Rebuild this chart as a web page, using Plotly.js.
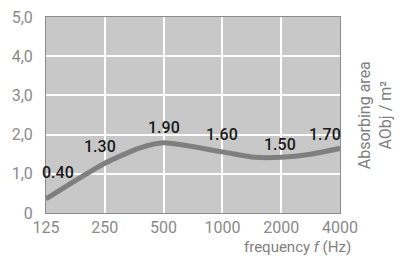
<!DOCTYPE html>
<html><head><meta charset="utf-8">
<script src="https://cdn.plot.ly/plotly-3.0.1.min.js"></script>
<style>html,body{margin:0;padding:0;background:#fff}#c{width:408px;height:256px}</style>
</head><body><div id="c"></div>
<script>
// Octave-band categories
const freqLabels = ["125", "250", "500", "1000", "2000", "4000"];
// Printed values per octave band
const bandValues = [0.40, 1.30, 1.90, 1.60, 1.50, 1.70];
// Curve as drawn (position in octaves from 125 Hz, absorbing area m²)
const curveOct = [0, 1, 1.6, 2, 3, 3.55, 4, 4.5, 5];
const curveVal = [0.36, 1.27, 1.66, 1.79, 1.56, 1.42, 1.42, 1.5, 1.65];
const yTickVals = [0, 1, 2, 3, 4, 5];
const yTickText = ["0", "1,0", "2,0", "3,0", "4,0", "5,0"];

// label placement (layout only)
const labelX = [0.2, 0.92, 2.0, 3.0, 3.98, 4.75];
const labelY = [1.03, 1.69, 2.17, 1.99, 1.76, 1.99];

const font = "Roboto, Liberation Sans, sans-serif";

const trace = {
  x: curveOct, y: curveVal, type: "scatter", mode: "lines",
  line: {color: "#7f7f7f", width: 5, shape: "spline", smoothing: 0.6},
  hoverinfo: "skip"
};

const annotations = bandValues.map((v, i) => ({
  x: labelX[i], y: labelY[i], xref: "x", yref: "y",
  text: v.toFixed(2), showarrow: false,
  font: {family: font, size: 16, weight: 500, color: "#1a1a1a"}
}));
annotations.push({
  xref: "paper", yref: "paper", x: 1.045, y: 0.5, xanchor: "left", yanchor: "middle",
  text: "Absorbing area<br>AObj / m²", textangle: -90, showarrow: false,
  font: {family: font, size: 16, color: "#808080"}
});
annotations.push({
  xref: "paper", yref: "paper", x: 1.04, y: -0.224, xanchor: "right", yanchor: "bottom",
  borderpad: 0,
  text: "frequency <i>f</i> (Hz)", showarrow: false,
  font: {family: font, size: 15, color: "#808080"}
});

const layout = {
  width: 408, height: 256,
  margin: {l: 46, r: 68, t: 17, b: 43, pad: 0},
  paper_bgcolor: "#ffffff", plot_bgcolor: "#c8c8c8",
  showlegend: false,
  xaxis: {
    range: [0, 5], tickvals: [0, 1, 2, 3, 4, 5], ticktext: freqLabels,
    showgrid: true, gridcolor: "#ffffff", gridwidth: 2,
    zeroline: false, showline: true, linecolor: "#8c8c8c", linewidth: 1, mirror: true,
    ticks: "", ticklen: 0,
    tickfont: {family: font, size: 16, color: "#8a8a8a"}
  },
  yaxis: {
    range: [0, 5], tickvals: yTickVals, ticktext: yTickText,
    showgrid: true, gridcolor: "#ffffff", gridwidth: 2,
    zeroline: false, showline: true, linecolor: "#8c8c8c", linewidth: 1, mirror: true,
    ticks: "", ticklen: 0, ticklabelstandoff: 9,
    tickfont: {family: font, size: 16, color: "#8a8a8a"}
  },
  annotations: annotations
};

Plotly.newPlot("c", [trace], layout, {staticPlot: true, displayModeBar: false});
</script></body></html>
